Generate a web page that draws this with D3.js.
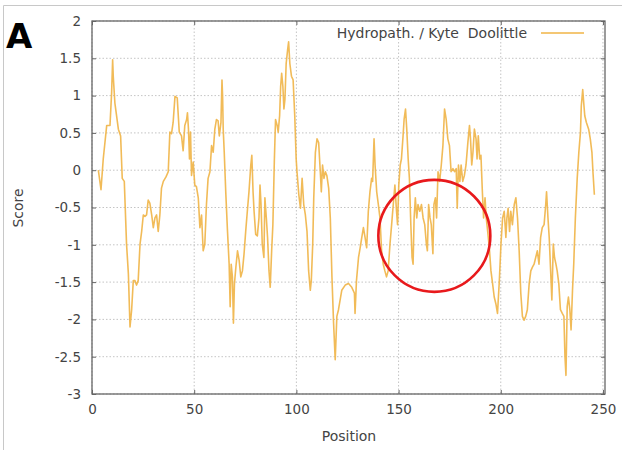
<!DOCTYPE html>
<html>
<head>
<meta charset="utf-8">
<script src="https://cdn.jsdelivr.net/npm/d3@7"></script>
<style>
  body { margin: 0; background: #fff; }
  svg text { font-family: "DejaVu Sans", Verdana, sans-serif; fill: #444; }
</style>
</head>
<body>
<svg id="chart" width="622" height="450"></svg>
<script>
// position along the sequence and Kyte-Doolittle score
var positions = [
  3.1, 4.4, 5.5, 7.2, 8.8, 9.6, 10.1, 10.4, 11.2, 12.9, 14.0, 14.8, 15.8, 16.9, 17.8, 18.6, 19.4, 20.2, 21.0, 21.8,
  22.6, 23.5, 24.3, 25.1, 25.9, 26.7, 27.5, 28.3, 29.2, 30.0, 30.8, 31.6, 32.4, 33.2, 34.0, 34.9, 36.2, 37.3, 38.1, 38.9,
  39.7, 40.6, 41.7, 42.7, 43.8, 44.6, 45.4, 46.3, 46.7, 47.2, 47.7, 48.2, 48.7, 49.5, 50.3, 51.1, 52.0, 52.8, 53.6, 54.4,
  55.2, 56.0, 56.8, 57.7, 58.5, 59.3, 60.1, 60.9, 61.7, 62.3, 63.1, 63.6, 63.9, 64.2, 64.7, 65.5, 66.3, 67.1, 67.6, 68.1,
  68.7, 69.2, 69.7, 70.4, 71.2, 72.0, 72.8, 73.6, 74.4, 75.2, 76.0, 76.8, 77.7, 78.2, 78.8, 79.3, 80.1, 80.9, 81.7, 82.2,
  82.7, 83.3, 84.1, 84.6, 85.3, 85.9, 86.6, 87.2, 87.9, 88.5, 89.2, 89.8, 90.6, 91.1, 91.8, 92.3, 92.8, 93.4, 93.9, 94.4,
  95.0, 95.7, 96.2, 96.8, 97.6, 98.4, 99.2, 99.9, 100.3, 101.2, 102.0, 102.8, 103.6, 104.4, 105.2, 106.0, 106.8, 107.3, 108.0, 108.5,
  109.3, 110.1, 110.9, 111.7, 112.2, 112.8, 113.5, 114.2, 114.9, 115.8, 116.6, 117.4, 118.2, 119.0, 119.8, 120.6, 122.2, 123.9, 125.5, 127.1,
  128.4, 128.7, 129.4, 130.4, 131.2, 132.0, 132.8, 133.6, 134.4, 135.2, 136.0, 136.8, 137.3, 138.0, 138.5, 139.3, 140.1, 140.9, 141.7, 142.5,
  143.3, 144.1, 144.9, 145.8, 146.6, 147.4, 148.2, 149.0, 149.5, 150.1, 150.8, 151.4, 152.2, 152.7, 153.4, 154.0, 154.7, 155.3, 156.0, 156.6,
  157.1, 157.6, 158.2, 158.9, 159.5, 160.4, 161.2, 162.0, 162.8, 163.6, 164.1, 164.7, 165.4, 166.0, 166.8, 167.3, 168.0, 168.6, 169.3, 170.1,
  170.9, 171.7, 172.5, 173.3, 174.1, 174.9, 175.7, 176.6, 177.4, 178.2, 178.7, 179.3, 180.0, 180.6, 181.4, 182.2, 183.0, 183.9, 184.7, 185.2,
  185.8, 186.4, 187.1, 187.9, 188.4, 189.0, 189.7, 190.3, 191.0, 191.6, 192.3, 192.9, 193.6, 194.4, 195.2, 196.0, 196.8, 197.6, 198.4, 199.3,
  200.1, 200.9, 201.7, 202.5, 203.0, 203.6, 204.3, 204.9, 205.7, 206.6, 207.4, 208.2, 209.0, 209.8, 210.6, 211.4, 212.2, 213.0, 213.9, 214.7,
  215.5, 216.3, 217.1, 217.9, 218.7, 219.5, 220.3, 221.2, 222.0, 222.4, 223.1, 223.7, 224.4, 225.0, 225.7, 226.3, 227.0, 227.6, 228.4, 229.2,
  230.1, 230.9, 231.4, 231.9, 232.5, 233.1, 233.8, 234.4, 235.1, 235.7, 236.5, 237.4, 238.2, 239.0, 239.4, 240.1, 240.6, 241.1, 241.9, 243.0,
  243.8, 244.6, 245.1, 245.8
];
var scores = [
  0.00, -0.26, 0.15, 0.60, 0.60, 1.04, 1.48, 1.26, 0.90, 0.55, 0.46, -0.11, -0.15, -0.99, -1.39, -2.10, -1.87, -1.48, -1.48, -1.54,
  -1.48, -0.99, -0.82, -0.60, -0.62, -0.60, -0.40, -0.44, -0.60, -0.77, -0.64, -0.60, -0.82, -0.60, -0.24, -0.15, -0.09, -0.02, 0.51, 0.49,
  0.64, 0.99, 0.97, 0.51, 0.46, 0.26, 0.60, 0.68, 0.77, 0.55, 0.15, 0.51, -0.07, 0.11, -0.20, -0.22, -0.37, -0.77, -0.60, -1.08,
  -0.99, -0.46, -0.11, -0.02, 0.33, 0.24, 0.55, 0.68, 0.66, 0.46, 0.64, 1.21, 0.99, 0.55, 0.24, -0.33, -0.82, -1.26, -1.83, -1.26,
  -1.43, -2.05, -1.52, -1.30, -1.08, -1.21, -1.43, -1.35, -1.12, -0.82, -0.55, -0.29, 0.07, 0.20, -0.29, -0.55, -0.86, -0.88, -0.64, -0.20,
  -0.46, -0.99, -1.17, -0.37, -0.64, -0.90, -1.35, -1.57, -1.08, -0.73, 0.11, 0.68, 0.60, 0.51, 0.73, 1.12, 1.30, 1.12, 0.82, 0.95,
  1.43, 1.61, 1.72, 1.43, 1.26, 1.21, 0.73, 0.15, -0.02, -0.33, -0.51, -0.11, -0.46, -0.60, -0.82, -1.35, -1.61, -1.48, -0.99, -0.37,
  0.24, 0.42, 0.37, -0.02, -0.29, 0.07, -0.11, -0.02, -0.07, -0.24, -0.64, -1.43, -2.05, -2.54, -1.96, -1.87, -1.61, -1.54, -1.52, -1.57,
  -1.65, -1.92, -1.48, -1.17, -1.04, -0.90, -0.77, -0.90, -1.04, -0.55, -0.29, -0.11, -0.15, 0.42, 0.07, -0.29, -0.46, -0.64, -1.08, -1.26,
  -1.35, -1.43, -1.35, -0.99, -0.73, -0.46, -0.20, -0.55, -0.73, -0.20, 0.07, 0.15, 0.46, 0.68, 0.82, 0.55, 0.15, -0.11, -0.73, -1.17,
  -1.26, -0.64, -0.37, -0.64, -0.46, -0.55, -0.46, -0.64, -0.73, -0.99, -1.08, -0.46, -0.64, -0.73, -1.12, -0.46, -0.37, -0.64, -0.02, -0.15,
  0.07, 0.33, 0.82, 0.68, 0.42, 0.33, -0.02, 0.02, -0.02, 0.02, -0.51, 0.07, -0.15, 0.07, -0.15, -0.07, 0.07, 0.37, 0.60, 0.42,
  0.07, 0.24, 0.55, 0.42, 0.15, 0.46, 0.15, 0.20, -0.29, -0.64, -0.37, -0.64, -0.82, -1.04, -1.35, -1.52, -1.70, -1.79, -1.92, -1.48,
  -0.99, -0.64, -0.55, -0.90, -0.64, -0.51, -0.82, -0.55, -0.73, -0.46, -0.37, -0.64, -1.08, -1.65, -1.96, -2.01, -1.96, -1.87, -1.52, -1.35,
  -1.30, -1.26, -1.17, -1.08, -1.26, -0.90, -0.77, -0.73, -0.46, -0.29, -0.64, -0.90, -1.35, -1.74, -0.99, -1.17, -1.26, -1.35, -1.52, -1.87,
  -1.92, -1.96, -2.49, -2.75, -1.83, -1.70, -1.87, -2.14, -1.61, -1.26, -0.64, -0.11, 0.24, 0.51, 0.86, 1.08, 0.90, 0.73, 0.64, 0.55,
  0.42, 0.24, -0.02, -0.33
];
var xTicks = [0, 50, 100, 150, 200, 250];
var yTicks = [2, 1.5, 1, 0.5, 0, -0.5, -1, -1.5, -2, -2.5, -3];
var legendLabel = "Hydropath. / Kyte\u00a0\u00a0Doolittle";
// region circled in red: centre in data units
var circlePos = 167.5, circleScore = -0.88;

var svg = d3.select("#chart");
var plotLeft = 92, plotRight = 605, plotTop = 21, plotBottom = 394;

var x = d3.scaleLinear().domain([0, 251]).range([plotLeft, plotRight]);
var y = d3.scaleLinear().domain([-3, 2]).range([plotBottom, plotTop]);

// thin grey border of the figure panel
svg.append("path")
  .attr("d", "M3.5,450 V5.5 H622")
  .attr("fill", "none")
  .attr("stroke", "#c8c8c8");

// grid
var grid = svg.append("g").attr("stroke", "#b5b5b5").attr("stroke-dasharray", "1.5,2").attr("stroke-width", 0.8);
yTicks.forEach(function(t) {
  grid.append("line").attr("x1", plotLeft).attr("x2", plotRight).attr("y1", y(t)).attr("y2", y(t));
});
xTicks.forEach(function(t) {
  grid.append("line").attr("x1", x(t)).attr("x2", x(t)).attr("y1", plotTop).attr("y2", plotBottom);
});

// axes, ticks point inward like gnuplot
var yAxis = svg.append("g").attr("transform", "translate(" + plotLeft + ",0)")
  .call(d3.axisLeft(y).tickValues(yTicks).tickSize(-4).tickPadding(11).tickFormat(function(d) { return String(d); }));
var yAxisR = svg.append("g").attr("transform", "translate(" + plotRight + ",0)")
  .call(d3.axisRight(y).tickValues(yTicks).tickSize(-4).tickFormat(""));
var xAxis = svg.append("g").attr("transform", "translate(0," + plotBottom + ")")
  .call(d3.axisBottom(x).tickValues(xTicks).tickSize(-4).tickPadding(10));
var xAxisT = svg.append("g").attr("transform", "translate(0," + plotTop + ")")
  .call(d3.axisTop(x).tickValues(xTicks).tickSize(-4).tickFormat(""));

[yAxis, yAxisR, xAxis, xAxisT].forEach(function(a) {
  a.select(".domain").remove();
  a.selectAll(".tick line").attr("stroke", "#666");
  a.selectAll("text").attr("font-size", 13.5).attr("fill", "#444")
    .attr("font-family", "DejaVu Sans, sans-serif");
});

svg.append("rect")
  .attr("x", plotLeft).attr("y", plotTop)
  .attr("width", plotRight - plotLeft).attr("height", plotBottom - plotTop)
  .attr("fill", "none").attr("stroke", "#666").attr("stroke-width", 1.3);

// the profile
var pts = positions.map(function(p, i) { return [p, scores[i]]; });
var line = d3.line().x(function(d) { return x(d[0]); }).y(function(d) { return y(d[1]); });
svg.append("path")
  .datum(pts)
  .attr("d", line)
  .attr("fill", "none")
  .attr("stroke", "#f0b446")
  .attr("stroke-width", 1.6)
  .attr("stroke-linejoin", "round")
  .attr("opacity", 0.9);

// legend
svg.append("text")
  .attr("x", 527).attr("y", 38)
  .attr("text-anchor", "end")
  .attr("font-size", 14)
  .attr("fill", "#444")
  .text(legendLabel);
svg.append("line")
  .attr("x1", 541).attr("x2", 584).attr("y1", 33).attr("y2", 33)
  .attr("stroke", "#f0b446").attr("stroke-width", 1.6);

// axis titles
svg.append("text")
  .attr("x", 349).attr("y", 441)
  .attr("text-anchor", "middle")
  .attr("font-size", 14)
  .text("Position");
svg.append("text")
  .attr("transform", "translate(23,208) rotate(-90)")
  .attr("text-anchor", "middle")
  .attr("font-size", 14)
  .text("Score");

// panel letter
svg.append("text")
  .attr("x", 6).attr("y", 48)
  .attr("font-family", "Liberation Sans, Arial, sans-serif")
  .attr("font-weight", "bold")
  .attr("font-size", 34)
  .style("fill", "#000")
  .text("A");

// red annotation circle
svg.append("circle")
  .attr("cx", x(circlePos)).attr("cy", y(circleScore))
  .attr("r", 56)
  .attr("fill", "none")
  .attr("stroke", "#e8191c")
  .attr("stroke-width", 2.6);
</script>
</body>
</html>
